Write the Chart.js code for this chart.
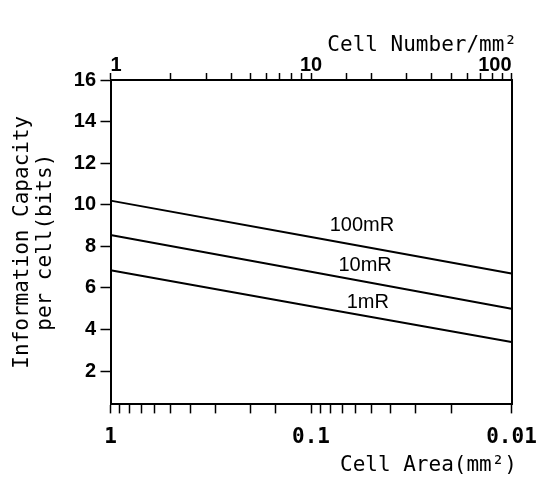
<!DOCTYPE html>
<html>
<head>
<meta charset="utf-8">
<script src="https://cdn.jsdelivr.net/npm/chart.js@4.4.1/dist/chart.umd.min.js"></script>
<style>
  body { margin: 0; background: #fff; }
  #c { display: block; }
</style>
</head>
<body>
<canvas id="c" width="538" height="481"></canvas>
<script>
// cell area (mm^2) on the bottom axis
const cellArea = [1, 0.1, 0.01];
const cap100mR = [10.2, 8.45, 6.7];
const cap10mR = [8.55, 6.78, 5.0];
const cap1mR = [6.85, 5.12, 3.4];
const seriesNames = ['100mR', '10mR', '1mR'];
const yTicks = [2, 4, 6, 8, 10, 12, 14, 16];

const mono = 'DejaVu Sans Mono';
const sans = 'Liberation Sans';

const isPow10 = v => Math.abs(Math.log10(v) - Math.round(Math.log10(v))) < 1e-9;

// writes the dose name just above each line
const lineLabels = {
    id: 'lineLabels',
    afterDatasetsDraw(chart) {
        const ctx = chart.ctx;
        const x = chart.scales.x;
        const at = [0.0557, 0.0537, 0.0521];
        const lift = [21, 16, 14];
        ctx.save();
        ctx.font = '20px "' + sans + '"';
        ctx.fillStyle = '#000';
        ctx.textAlign = 'center';
        ctx.textBaseline = 'middle';
        chart.data.datasets.forEach((ds, i) => {
            const pts = chart.getDatasetMeta(i).data;
            const px = x.getPixelForValue(at[i]);
            let py = pts[0].y;
            for (let k = 0; k < pts.length - 1; k++) {
                if (px >= pts[k].x && px <= pts[k + 1].x) {
                    const t = (px - pts[k].x) / (pts[k + 1].x - pts[k].x);
                    py = pts[k].y + t * (pts[k + 1].y - pts[k].y);
                }
            }
            ctx.fillText(ds.label, px, py - lift[i]);
        });
        ctx.restore();
    }
};

const lineStyle = {
    borderColor: '#000',
    borderWidth: 2,
    pointRadius: 0,
    fill: false,
    tension: 0
};

const makeSet = (name, vals) => Object.assign({
    label: name,
    data: cellArea.map((a, i) => ({ x: a, y: vals[i] }))
}, lineStyle);

const axisGrid = (len) => ({
    drawOnChartArea: false,
    drawTicks: true,
    tickLength: len,
    tickWidth: 1.5,
    color: '#000'
});
const axisBorder = { display: true, color: '#000', width: 2 };

// fixed box sizes so the plot frame lands where it is in the scan
const fixH = h => s => { s.height = h; s.paddingLeft = 0; s.paddingRight = 0; };
const fixW = w => s => { s.width = w; s.paddingTop = 0; s.paddingBottom = 0; };

new Chart(document.getElementById('c'), {
    type: 'line',
    data: {
        datasets: [
            makeSet(seriesNames[0], cap100mR),
            makeSet(seriesNames[1], cap10mR),
            makeSet(seriesNames[2], cap1mR)
        ]
    },
    options: {
        responsive: false,
        devicePixelRatio: 1,
        animation: false,
        events: [],
        layout: { autoPadding: false, padding: { left: 0, right: 21, top: 0, bottom: 0 } },
        plugins: {
            legend: { display: false },
            tooltip: { enabled: false },
            title: {
                display: true,
                text: 'Cell Area(mm²)',
                position: 'bottom',
                align: 'end',
                color: '#000',
                font: { family: mono, size: 21, weight: 'normal', lineHeight: 1.1 },
                padding: { top: 0, bottom: 4 }
            },
            subtitle: {
                display: true,
                text: 'Cell Number/mm²',
                position: 'top',
                align: 'end',
                color: '#000',
                font: { family: mono, size: 21, weight: 'normal', lineHeight: 1.1 },
                padding: { top: 34, bottom: 0 }
            }
        },
        scales: {
            x: {
                type: 'logarithmic',
                position: 'bottom',
                reverse: true,
                min: 0.01,
                max: 1,
                afterFit: fixH(49.5),
                grid: axisGrid(9),
                border: axisBorder,
                ticks: {
                    autoSkip: false,
                    maxRotation: 0,
                    padding: 14,
                    color: '#000',
                    font: { family: mono, size: 21, weight: 'bold', lineHeight: 1 },
                    callback: v => isPow10(v) ? String(Number(v.toPrecision(1))) : ''
                }
            },
            x2: {
                type: 'logarithmic',
                position: 'top',
                min: 1,
                max: 100,
                afterFit: fixH(22.9),
                grid: axisGrid(7),
                border: axisBorder,
                ticks: {
                    autoSkip: false,
                    maxRotation: 0,
                    align: 'inner',
                    padding: -2,
                    color: '#000',
                    font: { family: sans, size: 20, weight: 'bold', lineHeight: 1 },
                    callback: v => isPow10(v) ? String(Math.round(v)) : ''
                }
            },
            y: {
                type: 'linear',
                position: 'left',
                min: 0.4,
                max: 16,
                afterFit: fixW(110.5),
                afterBuildTicks: s => { s.ticks = yTicks.map(v => ({ value: v })); },
                grid: axisGrid(10),
                border: axisBorder,
                ticks: {
                    padding: 4.5,
                    color: '#000',
                    font: { family: sans, size: 20, weight: 'bold' }
                },
                title: {
                    display: true,
                    text: ['Information Capacity', 'per cell(bits)'],
                    color: '#000',
                    font: { family: mono, size: 21, weight: 'normal', lineHeight: 1.1 },
                    padding: { top: 11, bottom: 0 }
                }
            },
            y2: {
                type: 'linear',
                position: 'right',
                min: 0.4,
                max: 16,
                afterFit: fixW(5.5),
                grid: { drawOnChartArea: false, drawTicks: false },
                border: axisBorder,
                ticks: { display: false }
            }
        }
    },
    plugins: [lineLabels]
});
</script>
</body>
</html>
